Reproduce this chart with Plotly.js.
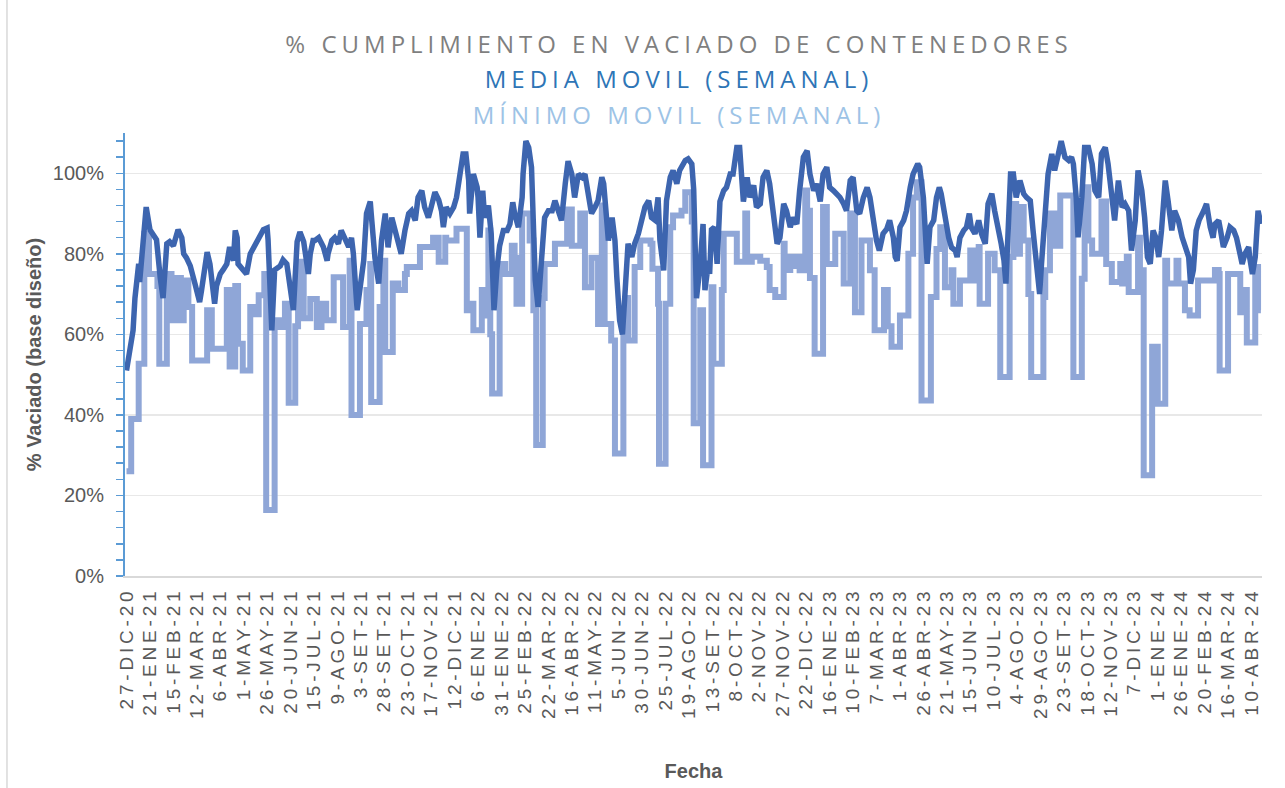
<!DOCTYPE html>
<html>
<head>
<meta charset="utf-8">
<script src="https://cdn.plot.ly/plotly-3.0.1.min.js"></script>
<style>
html,body{margin:0;padding:0;background:#ffffff;}
#chart{width:1285px;height:788px;}
.xtick text{letter-spacing:3.8px;}
.gtitle{letter-spacing:5px;}
</style>
</head>
<body>
<div id="chart"></div>
<script>
// ---- DATA (days counted from 27-DIC-20) ----
const mediaDias = [0,7,9,13,14,18,21,25,30,32,36,39,43,46,50,55,59,61,64,68,73,78,80,84,86,89,93,94,96,100,103,107,110,114,116,118,119,125,128,132,139,146,150,151,155,158,164,167,171,174,178,182,185,189,192,194,196,199,201,205,210,214,215,219,222,226,229,233,237,240,242,246,249,253,256,260,261,265,269,272,276,279,283,286,290,293,297,301,304,308,311,315,318,322,325,329,333,336,338,341,345,349,352,356,359,362,365,366,370,374,375,377,380,382,386,389,392,395,398,402,406,409,412,414,418,422,423,426,429,432,434,436,439,443,446,450,454,457,461,464,468,471,475,478,482,486,489,493,496,500,503,507,509,512,514,518,521,523,526,529,532,535,539,542,546,550,553,557,560,564,567,569,573,576,580,583,587,590,596,599,603,605,606,608,612,615,617,621,622,624,627,630,633,637,640,644,647,651,654,656,658,662,665,669,672,676,679,683,686,690,694,697,701,704,708,711,715,718,722,726,729,733,736,740,743,747,750,754,758,761,765,768,772,775,779,782,786,790,793,797,800,803,807,811,814,818,820,822,825,829,832,836,839,844,846,850,854,857,861,864,867,869,873,877,880,884,886,889,893,896,899,901,905,909,912,916,919,923,926,930,933,936,938,941,943,946,949,953,957,960,964,967,971,974,976,980,983,987,990,994,997,1001,1005,1008,1010,1013,1015,1019,1022,1026,1030,1033,1037,1040,1044,1047,1051,1054,1058,1062,1065,1069,1072,1076,1079,1083,1086,1089,1092,1095,1098,1101,1104,1108,1111,1115,1118,1122,1126,1129,1133,1135,1138,1141,1144,1149,1152,1156,1159,1161,1165,1167,1170,1174,1177,1181,1184,1187,1190,1193,1197,1198,1201,1204,1207,1210];
const mediaValores = [51,61,69,77.5,73,85,91.6,86,84.5,83.5,74,69,82.5,83,82,86,84,80,79,77,72.6,68,70.9,77.5,80.4,77.5,69,67.6,72,75,76,77.5,81.7,78.3,85.8,84,77.5,76,75,80,83.3,86,86.4,83.5,61,76,77,78.5,77.5,73.4,66,83,85.4,83,77.5,75,80,83.3,83.3,84,81.7,78.3,80,83.3,84,82.5,85.8,83.3,81.7,84,80,66,71,78.3,90,93,90,79,72.6,83.3,90,81.6,89,86.6,83.3,80,85.8,90,90.7,88.3,94,95.7,91.6,89,91.6,95.3,93.4,90.7,86.6,91.6,90,91.6,94,100.7,104.8,104.8,98.2,90,99.8,96.5,94,84,95.7,89,92,85,66,76,82,85.8,85.8,87.4,92.8,90,86.6,94,99.8,108,106.4,101.5,86.6,73.4,66.8,81.7,89,90.7,90.7,93.2,90.7,88.3,97.4,103,99.8,94,99.8,99,99.8,94,90,91.7,93.2,99,97.4,89,83.3,89,83.3,74.2,63.5,60,70,82.5,79.2,82.5,85,88.3,91.6,93.2,89,88.3,94,83.3,75.9,93.2,99,100.7,97.4,100.7,103.2,103.6,102.3,96,86,69,77.5,87.4,71,78.3,75,86,86.6,77.5,93,95.7,96.5,99.8,99.8,106.4,106.4,100.7,93,99,94,97,91.6,92.4,99,100.7,97.4,90,82.5,84,92.4,90.7,86.6,89,87.4,95.7,104,105.6,99.8,95.7,97.4,93,99.8,101.5,96.5,95.7,94.9,94,92.4,90.7,98.2,99,90.7,90,94,96.5,94,86.6,83.3,80.8,85,86.2,88.3,84,79.2,78.3,86.6,88.3,90.7,96.5,99.8,102.3,101.5,94,77.5,86.6,88.3,94,96.5,94.9,89,84,81.6,80.8,79.2,84,85.8,86.6,90,86.6,85,88.3,85,82.5,92.4,94.9,90.7,86.6,82.5,78.3,72.6,89,99.8,99.8,94,98.2,94.9,94,93.2,85.8,77.5,70,77.5,90,99.8,104.8,100.7,104.8,108,104,103.2,104,102.3,94,84.1,94,106.4,106.4,102.3,95.7,94,104.8,106.4,102.3,92.4,88.3,98.2,91.6,92.4,90.7,80.8,88.3,100.7,95.7,89,79.2,77.5,85.8,84,79.2,85.8,98.2,93.2,85.8,90.7,88.3,84.1,81.6,79.2,72.6,76,85.8,88.3,90.7,92.4,86.6,84,87.4,88.3,85.8,81.7,84,86.6,85.8,84,80.8,77.5,80,81.7,79.2,75,79.2,90.7,87.4];

const minimoDias = [0,5,13,19,24,33,35,43,48,52,58,61,66,70,86,91,107,110,116,119,124,132,135,141,147,149,158,164,169,173,180,183,189,196,203,208,213,221,231,238,240,249,256,260,261,270,274,276,284,290,297,299,313,327,333,340,341,352,363,368,370,379,381,386,388,390,398,404,411,414,416,422,430,434,437,444,446,457,470,475,484,489,496,503,507,510,517,521,530,533,535,542,548,559,561,567,568,575,580,583,592,596,603,605,612,615,624,626,635,637,651,660,662,667,676,683,686,692,701,702,708,710,715,718,724,726,729,734,743,747,756,765,772,777,784,793,798,808,812,816,825,834,839,843,848,858,864,868,873,880,882,889,900,903,909,910,919,926,932,942,946,949,953,957,962,965,978,980,985,990,996,1010,1019,1022,1026,1030,1040,1045,1051,1060,1062,1067,1069,1079,1081,1085,1094,1100,1108,1110,1120,1122,1129,1134,1143,1161,1165,1166,1175,1188,1193,1195,1204,1207,1210];
const minimoValores = [26,39,52.7,85,75,72,52.7,75,63.5,74,63.5,73.4,66.8,53.5,66,56.4,71,52,72,57.7,51,66.8,65,69.7,75,16.4,63.5,61.8,67.6,43,62,78,64,68.8,61.8,67.6,63.5,74.2,61.8,78.3,40,62.6,71,77.5,43.2,66.8,78.3,55.6,72.6,71,75,76.7,81.7,84,78,84,83.3,86.2,66,67.6,61,71,64.7,85.8,60,45.3,77.5,75,82,79,67.6,90,83.3,66,32.5,69,77.5,82.5,91,82,90,71.7,79,62.6,92,62.6,58.5,30.4,63,69,58.5,76.7,83.3,82.5,76.3,67.6,27.9,67.6,86.6,89.5,90.7,95.3,88,37.9,66,27.5,71.7,52.7,71,85,78,90,78,79.3,78.3,76.7,71,69.3,82.5,76,79.3,77,79.3,75.9,95.7,90.7,74,55.2,91.6,77.5,85,72.6,90,65.5,83.3,75.9,61,71,62,56.9,64.7,80,94,97.8,43.6,69.3,81.2,86.6,71.7,75.9,67.6,73.4,80.8,73.4,81.7,67.6,80,75.9,49.4,79.2,92.4,80,91.6,83.3,70,49.4,69.3,75.9,90,82,94.5,49.4,73.8,96.5,83.3,80,93,77.5,73,77.5,72.6,79.3,70.5,84,75.9,25,56.9,42.8,78.3,72.6,78.3,72.6,66,64.7,73.4,76,75,51,75,65.5,71,58,76.7,66,66];

const etiquetasFecha = ["27-DIC-20","21-ENE-21","15-FEB-21","12-MAR-21","6-ABR-21","1-MAY-21","26-MAY-21","20-JUN-21","15-JUL-21","9-AGO-21","3-SET-21","28-SET-21","23-OCT-21","17-NOV-21","12-DIC-21","6-ENE-22","31-ENE-22","25-FEB-22","22-MAR-22","16-ABR-22","11-MAY-22","5-JUN-22","30-JUN-22","25-JUL-22","19-AGO-22","13-SET-22","8-OCT-22","2-NOV-22","27-NOV-22","22-DIC-22","16-ENE-23","10-FEB-23","7-MAR-23","1-ABR-23","26-ABR-23","21-MAY-23","15-JUN-23","10-JUL-23","4-AGO-23","29-AGO-23","23-SET-23","18-OCT-23","12-NOV-23","7-DIC-23","1-ENE-24","26-ENE-24","20-FEB-24","16-MAR-24","10-ABR-24"];

// ---- helpers ----
const base = Date.UTC(2020, 11, 27);
function d2s(d){ return new Date(base + d*86400000).toISOString().replace('T',' ').slice(0,19); }
const tickDates = etiquetasFecha.map((_, i) => d2s(i*25));

const tickFont = {family:'Liberation Sans, Arial, sans-serif', size:19, color:'#595959'};
const titleFont = {family:'Liberation Sans, Arial, sans-serif', size:20, color:'#595959'};

const traces = [
  {
    name:'Mínimo móvil (semanal)', type:'scatter', mode:'lines',
    x: minimoDias.map(d2s), y: minimoValores,
    line:{color:'#8FA6D7', width:6, shape:'hv'}, hoverinfo:'x+y'
  },
  {
    name:'Media móvil (semanal)', type:'scatter', mode:'lines',
    x: mediaDias.map(d2s), y: mediaValores,
    line:{color:'#3D65AF', width:5.5, shape:'linear'}, hoverinfo:'x+y'
  }
];

const layout = {
  width:1285, height:788,
  margin:{l:125, r:23, t:133, b:212},
  paper_bgcolor:'#ffffff', plot_bgcolor:'#ffffff',
  showlegend:false,
  title:{
    text:"<span style='font-size:24px'>% CUMPLIMIENTO EN VACIADO DE CONTENEDORES</span><br>" +
         "<span style='font-size:24px;color:#2E75B6'>MEDIA MOVIL (SEMANAL)</span><br>" +
         "<span style='font-size:24px;color:#9DC3E6'>MÍNIMO MOVIL (SEMANAL)</span>",
    font:{family:'Open Sans, sans-serif', size:27.3, color:'#7F7F7F'},
    xref:'paper', x:0.4873, xanchor:'center',
    yref:'container', y:0.933, yanchor:'top'
  },
  xaxis:{
    type:'date', range:[d2s(-1.6), d2s(1211.2)],
    tickmode:'array', tickvals:tickDates, ticktext:etiquetasFecha,
    tickangle:-90, tickfont:tickFont, ticks:'',
    ticklabelstandoff:2,
    showgrid:false, zeroline:false,
    showline:true, linecolor:'#D9D9D9', linewidth:2,
    title:{text:'<b>Fecha</b>', font:titleFont, standoff:46},
    automargin:false
  },
  yaxis:{
    range:[0,110], tickmode:'linear', tick0:0, dtick:20, ticksuffix:'%',
    tickfont:{family:'Liberation Sans, Arial, sans-serif', size:20, color:'#595959'},
    showgrid:true, gridcolor:'#E8E8E8', gridwidth:1.2,
    zeroline:false, showline:true, linecolor:'#5B9BD5', linewidth:2,
    ticks:'outside', ticklen:7, tickwidth:1.5, tickcolor:'#5B9BD5',
    ticklabelstandoff:8,
    minor:{dtick:4, ticks:'outside', ticklen:7, tickwidth:1.5, tickcolor:'#5B9BD5', showgrid:false},
    title:{text:'<b>% Vaciado (base diseño)</b>', font:titleFont, standoff:6},
    automargin:false
  },
  shapes:[
    {type:'line', xref:'paper', yref:'paper', x0:-0.1038, x1:-0.1038, y0:1.3002, y1:-0.4786,
     line:{color:'#D9D9D9', width:1.5}}
  ]
};

Plotly.newPlot('chart', traces, layout, {displayModeBar:false, staticPlot:true});
</script>
</body>
</html>
